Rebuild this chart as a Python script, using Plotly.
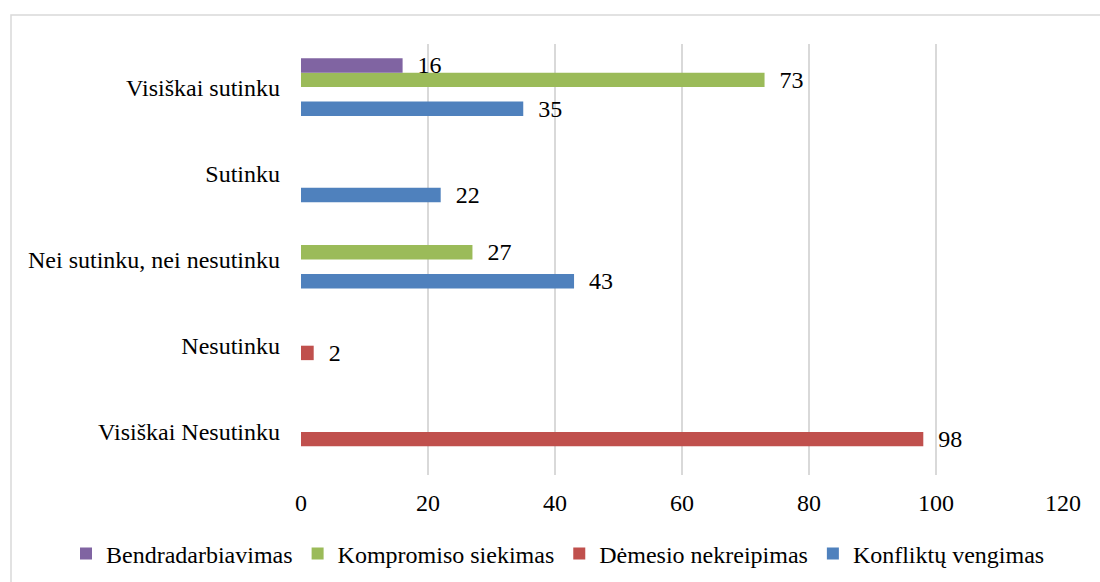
import plotly.graph_objects as go

categories = ["Visiškai Nesutinku", "Nesutinku", "Nei sutinku, nei nesutinku", "Sutinku", "Visiškai sutinku"]

konfliktu = [None, None, 43, 22, 35]
demesio = [98, 2, None, None, None]
kompromiso = [None, None, 27, None, 73]
bendradarbiavimas = [None, None, None, None, 16]

series = [
    ("Konfliktų vengimas", konfliktu, "#4F81BD"),
    ("Dėmesio nekreipimas", demesio, "#C0504D"),
    ("Kompromiso siekimas", kompromiso, "#9BBB59"),
    ("Bendradarbiavimas", bendradarbiavimas, "#8064A2"),
]

FONT = "Liberation Serif"

fig = go.Figure()
for name, vals, color in series:
    fig.add_trace(go.Bar(
        y=categories, x=vals, name=name, orientation="h",
        marker=dict(color=color, line=dict(width=0)),
        text=[("" if v is None else str(v)) for v in vals],
        texttemplate="  %{text}",
        textposition="outside",
        constraintext="none",
        cliponaxis=False,
        textfont=dict(family=FONT, size=24, color="#000000"),
    ))

W, H = 1100, 582
L, R, T, B = 301, 37, 44, 107
pw, ph = W - L - R, H - T - B

fig.update_layout(
    width=W, height=H,
    margin=dict(l=L, r=R, t=T, b=B, autoexpand=False),
    barmode="group",
    bargap=0.33,
    bargroupgap=0,
    plot_bgcolor="white",
    paper_bgcolor="white",
    font=dict(family=FONT, size=24, color="#000000"),
    showlegend=True,
    legend=dict(
        orientation="h", traceorder="reversed",
        x=(66 - L) / pw, xanchor="left",
        y=-(554 - (T + ph)) / ph, yanchor="middle",
        font=dict(family=FONT, size=24, color="#000000"),
        bgcolor="rgba(0,0,0,0)",
        borderwidth=0,
    ),
    xaxis=dict(
        range=[0, 120], dtick=20, tick0=0,
        showgrid=True, gridcolor="#D9D9D9", gridwidth=1.5,
        zeroline=False, showline=False, automargin=False,
        tickfont=dict(family=FONT, size=24, color="#000000"),
        ticks="", ticklabelstandoff=11,
    ),
    yaxis=dict(
        categoryorder="array", categoryarray=categories,
        showgrid=False, zeroline=False, showline=False, automargin=False,
        ticks="", ticklabelstandoff=20,
        tickfont=dict(family=FONT, size=24, color="#000000"),
    ),
    shapes=[dict(
        type="rect", xref="paper", yref="paper",
        x0=(11 - L) / pw, x1=(W + 10 - L) / pw,
        y0=-(H + 10 - (T + ph)) / ph, y1=1 + (T - 15) / ph,
        line=dict(color="#D9D9D9", width=1.5),
        fillcolor="rgba(0,0,0,0)", layer="below",
    )],
)

fig.write_html(
    "out.html",
    config={"displayModeBar": False},
    post_script="document.body.style.margin='0';",
)
